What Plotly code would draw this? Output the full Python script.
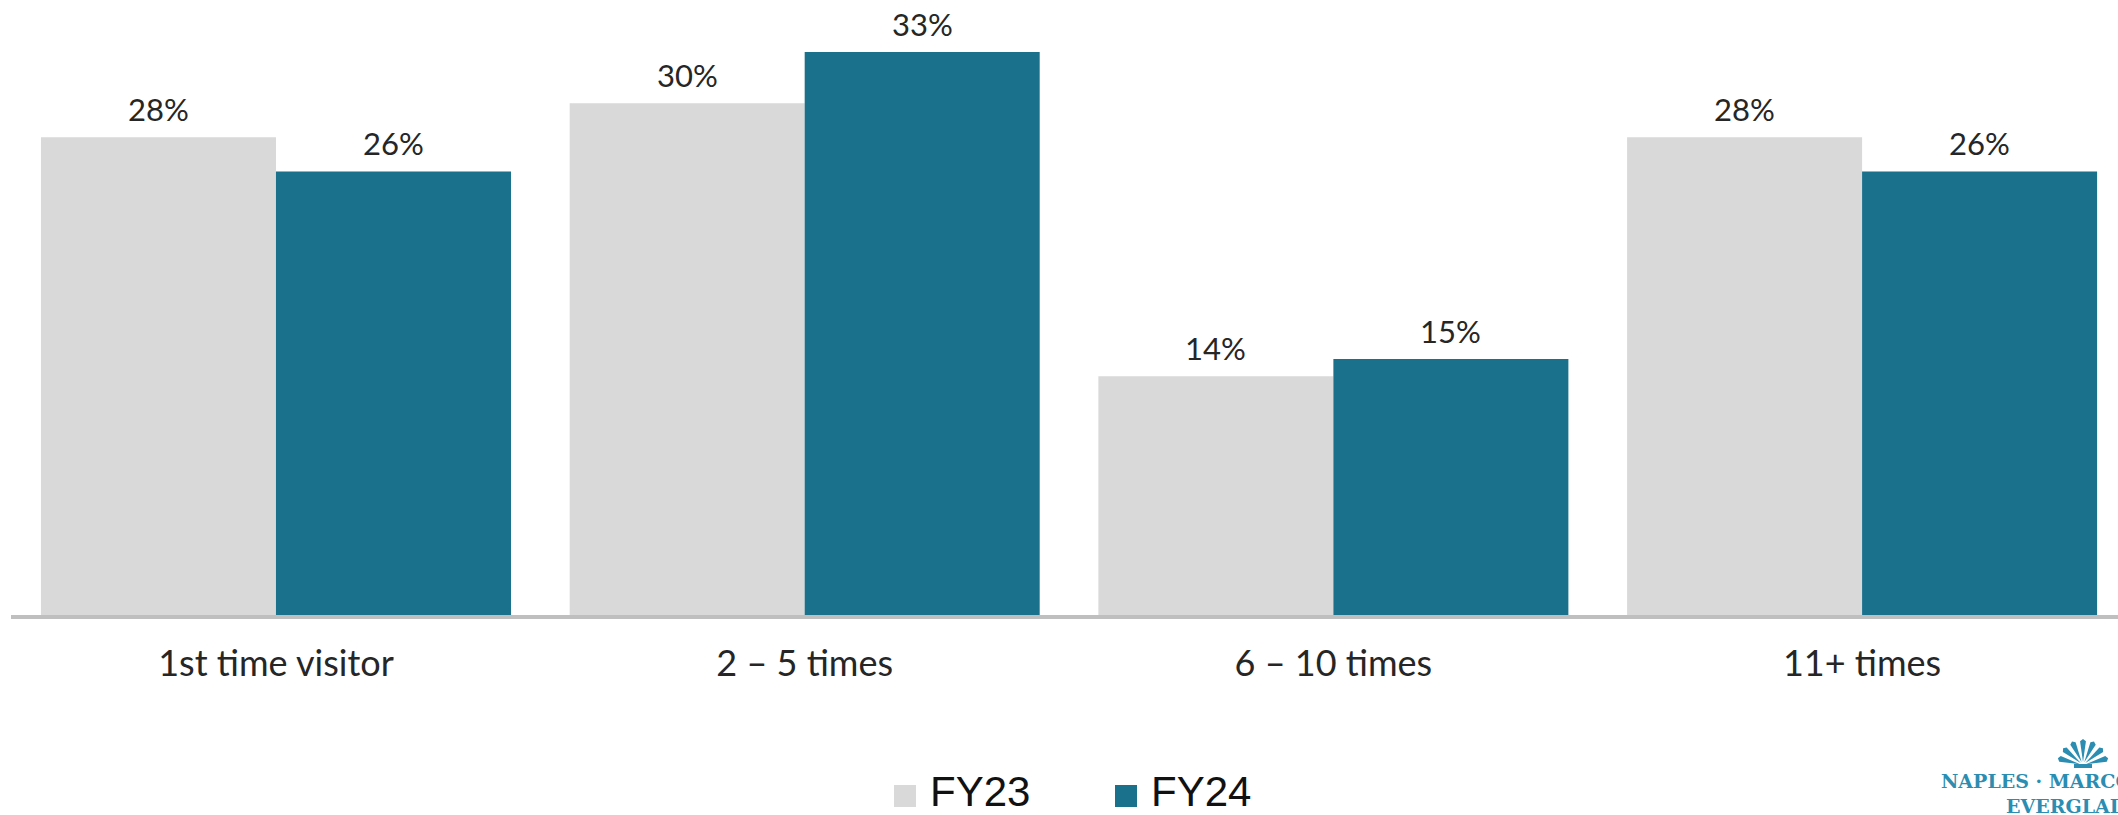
import math
import plotly.graph_objects as go

# ---- data ----
categories = ["1st time visitor", "2 – 5 times", "6 – 10 times", "11+ times"]
fy23_values = [28, 30, 14, 28]
fy24_values = [26, 33, 15, 26]
series_names = ["FY23", "FY24"]

# ---- style ----
W, H = 2118, 815
L, R, T, B = 11, 0, 0, 200
C_FY23 = "#d9d9d9"
C_FY24 = "#19718b"
TEXT_DARK = "#262626"
LOGO = "#2b8db1"
FONT = "Lato"
CAT_STEP = 528.7
BARGAP = 0.111

PW = W - L - R
PH = H - T - B


def px_x(px):
    return (px - L) / PW


def px_y(py):
    return (H - B - py) / PH


fig = go.Figure()
annotations = []
bar_w = CAT_STEP * (1 - BARGAP) / 2
for k, (name, vals, col) in enumerate([(series_names[0], fy23_values, C_FY23),
                                       (series_names[1], fy24_values, C_FY24)]):
    fig.add_trace(go.Bar(
        x=categories, y=vals, name=name,
        marker=dict(color=col, line=dict(width=0)),
        showlegend=False,
    ))
    shift = (-0.5 if k == 0 else 0.5) * bar_w
    for c, v in zip(categories, vals):
        annotations.append(dict(text=f"{v}%", x=c, y=v, xref="x", yref="y",
                                xanchor="center", yanchor="bottom",
                                xshift=shift, yshift=8, borderpad=0,
                                showarrow=False,
                                font=dict(family=FONT, size=31, color=TEXT_DARK)))

shapes = []

# manual legend (large square swatches)
legend_items = [(series_names[0], C_FY23, 894, 929), (series_names[1], C_FY24, 1115, 1150)]
for name, col, sx, tx in legend_items:
    shapes.append(dict(type="rect", xref="paper", yref="paper",
                       x0=px_x(sx), x1=px_x(sx + 22), y0=px_y(807), y1=px_y(785),
                       fillcolor=col, line=dict(width=0), layer="above"))
    annotations.append(dict(text=name, xref="paper", yref="paper",
                            x=px_x(tx), y=px_y(791), xanchor="left", yanchor="middle",
                            showarrow=False, borderpad=0,
                            font=dict(family="Liberation Sans", size=42, color="#111111")))

# logo text
annotations.append(dict(text="<b>NAPLES · MARCO ISLAND</b>", xref="paper", yref="paper",
                        x=px_x(1940), y=px_y(781), xanchor="left", yanchor="middle",
                        showarrow=False, borderpad=0,
                        font=dict(family="DejaVu Serif", size=19, color=LOGO)))
annotations.append(dict(text="<b>EVERGLADES</b>", xref="paper", yref="paper",
                        x=px_x(2005), y=px_y(806), xanchor="left", yanchor="middle",
                        showarrow=False, borderpad=0,
                        font=dict(family="DejaVu Serif", size=19, color=LOGO)))

# logo shell icon (fan of ribs)
cx, cy = 2083, 765
n_ribs = 7
for i in range(n_ribs):
    ang = math.radians(165 - i * (150 / (n_ribs - 1)))
    half = math.radians(7)
    r = 24
    p0 = (cx + 3 * math.cos(ang), cy - 3 * math.sin(ang))
    p1 = (cx + r * math.cos(ang - half), cy - r * math.sin(ang - half))
    p2 = (cx + (r + 2) * math.cos(ang), cy - (r + 2) * math.sin(ang))
    p3 = (cx + r * math.cos(ang + half), cy - r * math.sin(ang + half))
    path = "M {} {} L {} {} L {} {} L {} {} Z".format(
        px_x(p0[0]), px_y(p0[1]), px_x(p1[0]), px_y(p1[1]),
        px_x(p2[0]), px_y(p2[1]), px_x(p3[0]), px_y(p3[1]))
    shapes.append(dict(type="path", xref="paper", yref="paper", path=path,
                       fillcolor=LOGO, line=dict(width=0), layer="above"))
shapes.append(dict(type="rect", xref="paper", yref="paper",
                   x0=px_x(cx - 9), x1=px_x(cx + 9), y0=px_y(768), y1=px_y(764),
                   fillcolor=LOGO, line=dict(width=0), layer="above"))

x_min = -0.5012
x_max = x_min + PW / CAT_STEP
y_max = PH / 17.06

fig.update_layout(
    width=W, height=H,
    margin=dict(l=L, r=R, t=T, b=B, pad=0),
    paper_bgcolor="white", plot_bgcolor="white",
    barmode="group", bargap=BARGAP, bargroupgap=0,
    showlegend=False,
    shapes=shapes, annotations=annotations,
    xaxis=dict(type="category", range=[x_min, x_max], showline=True,
               linecolor="#bfbfbf", linewidth=4, ticks="", showgrid=False,
               zeroline=False, ticklabelstandoff=14,
               tickfont=dict(family=FONT, size=36, color=TEXT_DARK)),
    yaxis=dict(range=[0, y_max], visible=False, showgrid=False, zeroline=False),
    font=dict(family=FONT),
)

fig.write_html("out.html", config={"displayModeBar": False},
               post_script="document.body.style.margin='0';")
